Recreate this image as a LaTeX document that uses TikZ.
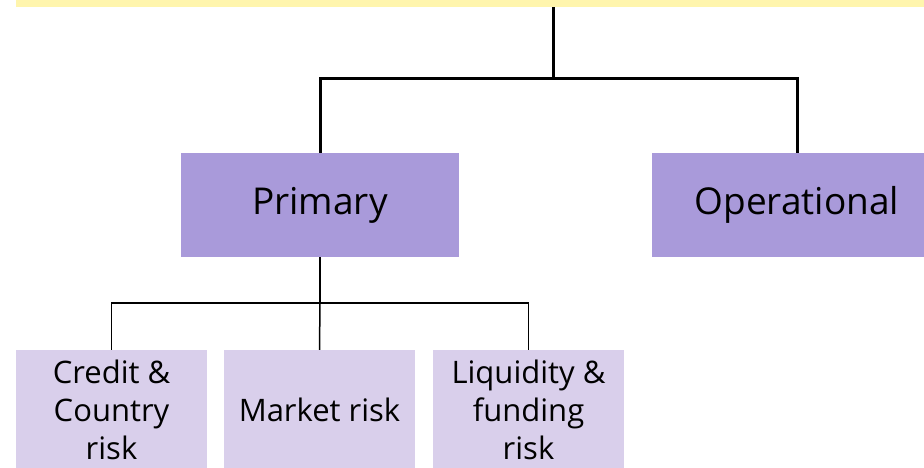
\documentclass[tikz,border=0pt]{standalone}
\usepackage{fontspec}
\setmainfont{Open Sans}
\usepackage{xcolor}
\usepackage{tikz}
\usetikzlibrary{positioning, calc}
\definecolor{bandyellow}{HTML}{FFF5AD}
\definecolor{riskpurple}{HTML}{A99ADA}
\definecolor{lightpurple}{HTML}{D9CFEB}

\begin{document}
\begin{tikzpicture}[
    x=1pt, y=-1pt,
    band/.style={rectangle, fill=bandyellow, minimum width=1074pt, minimum height=74pt, inner sep=0pt},
    maintype/.style={rectangle, fill=riskpurple, minimum height=104pt, inner sep=0pt, font=\fontsize{37}{44}\selectfont},
    subtype/.style={rectangle, fill=lightpurple, minimum width=191pt, minimum height=120pt, inner sep=0pt, align=center, font=\fontsize{31}{38}\selectfont},
    upperline/.style={line width=3pt},
    lowerline/.style={line width=1.5pt}
]
\useasboundingbox (0,0) rectangle (924,468);
\clip (0,0) rectangle (924,468);

\node[band] (top) at (553,-30) {};

\node[maintype, minimum width=278pt] (primary) at (320,205) {Primary};
\node[maintype, minimum width=290pt] (oper) at (797,205) {Operational};

\node[subtype] (credit) at (111.5,410) {Credit \&\\Country\\risk};
\node[subtype] (market) at (319.5,410) {Market risk};
\node[subtype] (liquid) at (528.5,410) {Liquidity \&\\funding\\risk};

\coordinate (upjoin) at (553,79);
\coordinate (lowjoin) at (320,303);

\draw[upperline] (top.south) -- (upjoin);
\draw[upperline] (primary.north) |- (upjoin) -| (oper.north);

\draw[lowerline] (primary.south) -- (lowjoin);
\draw[lowerline] (credit.north) |- (lowjoin) -| (liquid.north);
\draw[lowerline] (market.north) -- (lowjoin);

\end{tikzpicture}
\end{document}
